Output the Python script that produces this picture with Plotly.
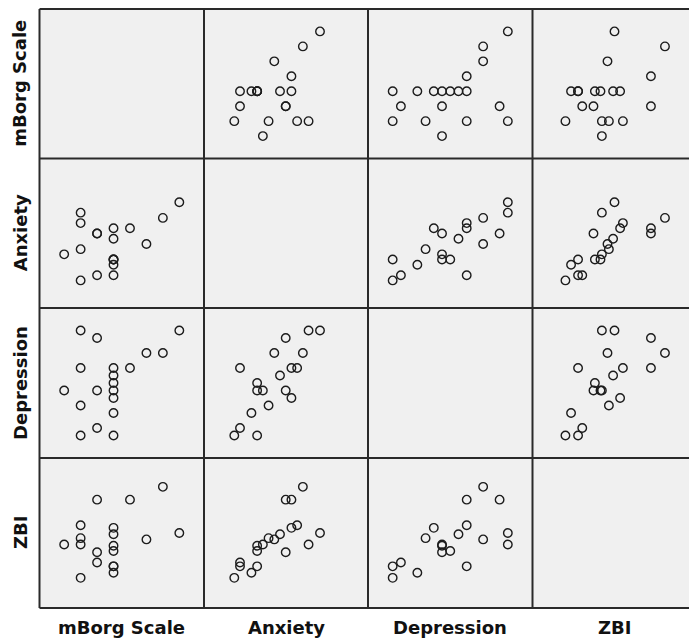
import plotly.graph_objects as go

# Variables of the scatterplot matrix (one value per participant)
variables = ["mBorg Scale", "Anxiety", "Depression", "ZBI"]

mborg      = [7, 6, 5, 4, 3, 3, 3, 3, 3, 3, 3, 2, 2, 2, 1, 1, 1, 1, 0]
anxiety    = [15, 12, 7, 10, 1, 8, 4, 4, 10, 3, 4, 9, 9, 1, 13, 0, 6, 11, 5]
depression = [14, 11, 11, 9, 9, 8, 7, 6, 5, 3, 0, 13, 6, 1, 14, 0, 4, 9, 6]
zbi        = [50, 86, 45, 76, 24, 49, 36, 40, 54, 19, 24, 76, 35, 27, 41, 15, 46, 56, 41]

data = [mborg, anxiety, depression, zbi]

# Axis ranges used for each variable (same range on x and y)
ranges = [[-1.5, 8.5], [-5.3, 23.4], [-3.0, 17.0], [-8.5, 108.5]]

W, H = 689, 639
col_edges = [39.5, 204, 368, 532.5, 696.5]   # pixel edges of the matrix columns
row_edges = [9, 158.5, 308, 458, 608]        # pixel edges of the matrix rows
n = len(variables)

fig = go.Figure()
layout_axes = {}

for r in range(n):
    for c in range(n):
        idx = r * n + c + 1
        xa = "x" if idx == 1 else f"x{idx}"
        ya = "y" if idx == 1 else f"y{idx}"
        x0, x1 = col_edges[c], col_edges[c + 1]
        xr = list(ranges[c])
        if x1 > W:
            # the last column runs past the page edge; clip its range accordingly
            frac = (W - x0) / (x1 - x0)
            xr[1] = xr[0] + (xr[1] - xr[0]) * frac
            x1 = W
        y0, y1 = row_edges[r], row_edges[r + 1]
        common = dict(showgrid=False, zeroline=False, showticklabels=False,
                      ticks="", showline=False, fixedrange=True)
        layout_axes["xaxis" if idx == 1 else f"xaxis{idx}"] = dict(
            domain=[x0 / W, x1 / W], range=xr, anchor=ya, **common)
        layout_axes["yaxis" if idx == 1 else f"yaxis{idx}"] = dict(
            domain=[1 - y1 / H, 1 - y0 / H], range=ranges[r], anchor=xa, **common)
        if r == c:
            # diagonal cells stay empty
            fig.add_trace(go.Scatter(x=[], y=[], xaxis=xa, yaxis=ya,
                                     showlegend=False))
            continue
        fig.add_trace(go.Scatter(
            x=data[c], y=data[r], mode="markers", xaxis=xa, yaxis=ya,
            showlegend=False, hoverinfo="skip",
            marker=dict(symbol="circle-open", size=8.5, color="#1c1c1c",
                        line=dict(width=1.4, color="#1c1c1c")),
        ))

# Matrix frame lines
line_style = dict(color="#2a2a2a", width=2)
shapes = []
for xe in col_edges[:-1]:
    shapes.append(dict(type="line", xref="paper", yref="paper",
                       x0=xe / W, x1=xe / W,
                       y0=1 - row_edges[0] / H, y1=1 - row_edges[-1] / H,
                       line=line_style, layer="above"))
for ye in row_edges:
    shapes.append(dict(type="line", xref="paper", yref="paper",
                       x0=col_edges[0] / W, x1=1.0,
                       y0=1 - ye / H, y1=1 - ye / H,
                       line=line_style, layer="above"))

label_font = dict(family="DejaVu Sans", size=18, color="#111111")
annotations = []
for i, name in enumerate(variables):
    ymid = (row_edges[i] + row_edges[i + 1]) / 2
    annotations.append(dict(
        text=f"<b>{name}</b>", xref="paper", yref="paper",
        x=20 / W, y=1 - ymid / H, textangle=-90, showarrow=False,
        xanchor="center", yanchor="middle", font=label_font))
    xmid = (col_edges[i] + col_edges[i + 1]) / 2
    annotations.append(dict(
        text=f"<b>{name}</b>", xref="paper", yref="paper",
        x=xmid / W, y=1 - 627 / H, showarrow=False,
        xanchor="center", yanchor="middle", font=label_font))

fig.update_layout(
    width=W, height=H,
    margin=dict(l=0, r=0, t=0, b=0),
    paper_bgcolor="white",
    plot_bgcolor="#f0f0f0",
    shapes=shapes,
    annotations=annotations,
    **layout_axes,
)

fig.write_html("out.html")
